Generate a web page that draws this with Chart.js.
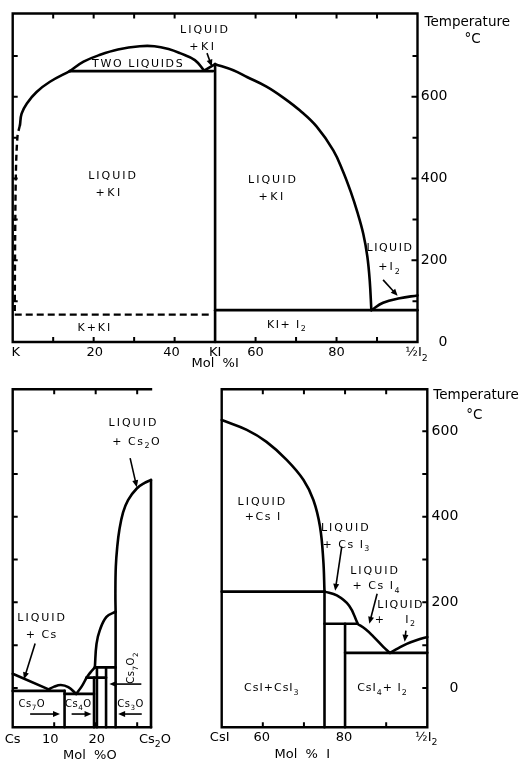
<!DOCTYPE html>
<html><head><meta charset="utf-8">
<script src="https://cdn.jsdelivr.net/npm/chart.js@4/dist/chart.umd.min.js"></script>
<style>
html,body{margin:0;padding:0;background:#fff;width:531px;height:762px;overflow:hidden}
canvas{position:absolute;left:0;top:0}
</style></head><body>
<canvas id="c1" width="531" height="762"></canvas>
<canvas id="c2" width="531" height="762"></canvas>
<canvas id="c3" width="531" height="762"></canvas>
<script>
// ===== K – I system (mol % I, temperature °C) =====
const kiLiquidusKSide = [[1.8,531],[2.2,559],[3.5,584],[5.9,612],[9.2,637],[14.1,663]];
const kiTwoLiquidDome = [[14.1,663],[17.5,686],[21.6,703],[26,716],[31.4,724],[35,724],[38.5,717],[41.3,707],[45,690],[47.3,664]];
const kiMonotectic = [[14.1,663],[49.5,663]];
const kiLiquidusNearKI = [[47.3,664],[50,680]];
const kiCompoundLine = [[50,0],[50,680]];
const kiLiquidusISide = [[50,680],[54.5,665],[58,648],[62.7,625],[67,597],[70.9,567],[75.1,527],[79.2,469],[81.5,420],[83.5,368],[85.2,316],[86.6,265],[87.6,210],[88.2,150],[88.6,78]];
const kiEutectic = [[50,78],[100,78]];
const kiIodineLiquidus = [[88.6,78],[91.5,96],[95.6,107],[100,114]];
const kiDashedLiquidus = [[1.8,531],[1.2,505],[0.8,420],[0.6,250],[0.5,67]];
const kiDashedSolidus = [[0.5,67],[49,67]];
const kiXTicks = [10,20,30,40,60,70,80,90];
const kiXLabels = [[0,'K'],[20,'20'],[40,'40'],[50,'KI'],[60,'60'],[80,'80'],[100,'½I_2']];
const kiTempLabels = [[0,'0'],[200,'200'],[400,'400'],[600,'600']];
const kiTempTicksMajor = [200,400,600];
const kiTempTicksMinor = [100,300,500,700];
const kiLeftTicks = [100,200,300,400,500,600,700];

// ===== Cs – O system (mol % O) =====
const csLiquidus = [[0,33],[8.8,-4]];
const cs7oDome = [[8.4,-5],[10,3],[11.6,7],[13.4,2],[15.3,-14]];
const cs7oSolidus = [[0,-7],[12.5,-7]];
const cs7oLine = [[12.5,-92],[12.5,-7]];
const cs4oTop = [[12.5,-14],[19.6,-14]];
const cs4oLiquidus = [[15.3,-14],[16.6,3],[17.8,24]];
const cs4oPeritectic = [[17.8,24],[22.5,24]];
const cs11o3Liquidus = [[17.8,24],[18.8,37],[19.8,48]];
const cs7o2Peritectic = [[19.8,48],[24.8,48]];
const cs3oLiquidus = [[19.8,48],[20.2,103],[21,135],[22.6,166],[24.8,178]];
const cs4oLine = [[19.6,-92],[19.6,24]];
const cs11o3Line = [[20.3,-92],[20.3,48]];
const cs7o2Line = [[22.5,-92],[22.5,48]];
const cs3oLine = [[24.8,-92],[24.8,178]];
const cs2oLiquidus = [[24.8,178],[24.75,220],[24.85,283],[25.2,330],[25.7,369],[26.6,410],[27.8,439],[29.9,466],[31.8,479],[33.33,486]];
const cs2oLine = [[33.33,-92],[33.33,486]];
const csoXTicks = [10,20,30];
const csoXLabels = [[0,'Cs'],[10,'10'],[20,'20'],[33.33,'Cs_2O']];
const csoLeftTicks = [0,100,200,300,400,500,600];

// ===== CsI – I system (mol % I) =====
const csiLiquidus = [[50,626],[56.1,603],[60.9,575],[65.8,533],[69.9,486],[72.3,439],[73.9,377],[74.7,299],[75,225]];
const csi3Peritectic = [[50,225],[75,225]];
const csi3Line = [[75,-92],[75,225]];
const csi3Liquidus = [[75,225],[78,216],[81,192],[83,152]];
const csi4Peritectic = [[75,150],[83,150]];
const csi4Line = [[80,-92],[80,150]];
const csi4Liquidus = [[83,150],[85,137],[86.9,120],[89.3,96],[90.9,82]];
const csiEutectic = [[80,82],[100,82]];
const csiIodineLiquidus = [[90.9,82],[93,93],[95,103],[97.5,112],[100,119]];
const csiXTicksTop = [60,70,80,90];
const csiXTicksBottom = [60,70,90];
const csiXLabels = [[50,'CsI'],[60,'60'],[80,'80'],[100,'½I_2']];
const csiTempLabels = [[0,'0'],[200,'200'],[400,'400'],[600,'600']];
const csiTempTicks = [0,100,200,300,400,500,600];

const FONT = "'DejaVu Sans', sans-serif";

function pts(a){ return a.map(p => ({x:p[0], y:p[1]})); }
function ln(a, opt){ return Object.assign({data:pts(a), showLine:true, pointRadius:0, borderColor:'#000', borderWidth:2.6, tension:0, fill:false, clip:false, borderCapStyle:'round', borderJoinStyle:'round'}, opt||{}); }
function crv(a){ return ln(a, {tension:0.4}); }

function drawRich(ctx, s, x, y, size, align, ls){
  const segs = [];
  for (let i=0;i<s.length;i++){
    if (s[i]==='_' && i+1<s.length){ segs.push({t:s[i+1], sub:true}); i++; }
    else if (segs.length && !segs[segs.length-1].sub) segs[segs.length-1].t += s[i];
    else segs.push({t:s[i], sub:false});
  }
  ctx.letterSpacing = (ls||0)+'px';
  let w = 0;
  for (const g of segs){ ctx.font = (g.sub? size*0.72 : size)+'px '+FONT; g.w = ctx.measureText(g.t).width; w += g.w; }
  let cx = align==='right' ? x-w : align==='left' ? x : x-w/2;
  ctx.textAlign='left'; ctx.textBaseline='middle';
  for (const g of segs){
    ctx.font = (g.sub? size*0.72 : size)+'px '+FONT;
    ctx.fillText(g.t, cx, g.sub ? y+size*0.4 : y);
    cx += g.w;
  }
  ctx.letterSpacing='0px';
}
function arrow(ctx,x1,y1,x2,y2){
  const a=Math.atan2(y2-y1,x2-x1), h=7, w=3;
  ctx.lineWidth=1.6;
  ctx.beginPath(); ctx.moveTo(x1,y1); ctx.lineTo(x2-h*0.7*Math.cos(a), y2-h*0.7*Math.sin(a)); ctx.stroke();
  ctx.beginPath(); ctx.moveTo(x2,y2);
  ctx.lineTo(x2-h*Math.cos(a)+w*Math.sin(a), y2-h*Math.sin(a)-w*Math.cos(a));
  ctx.lineTo(x2-h*Math.cos(a)-w*Math.sin(a), y2-h*Math.sin(a)+w*Math.cos(a));
  ctx.closePath(); ctx.fill();
}

const decor = {
  id:'decor',
  afterDatasetsDraw(chart, args, o){
    const ctx = chart.ctx, A = chart.chartArea, X = chart.scales.x, Y = chart.scales.y;
    ctx.save();
    ctx.strokeStyle='#000'; ctx.fillStyle='#000'; ctx.lineCap='square';
    ctx.lineWidth = 2.4;
    ctx.beginPath();
    for (const s of (o.frame||[])){
      if (s==='left'){ ctx.moveTo(A.left,A.top); ctx.lineTo(A.left,A.bottom); }
      if (s==='right'){ ctx.moveTo(A.right,A.top); ctx.lineTo(A.right,A.bottom); }
      if (s==='top'){ ctx.moveTo(A.left,A.top); ctx.lineTo(A.right,A.top); }
      if (s==='bottom'){ ctx.moveTo(A.left,A.bottom); ctx.lineTo(A.right,A.bottom); }
    }
    ctx.stroke();
    ctx.lineCap='butt';
    ctx.lineWidth = 2;
    for (const t of (o.ticks||[])){
      ctx.beginPath();
      for (const v of t.values){
        if (t.side==='bottom'){ const p=X.getPixelForValue(v); ctx.moveTo(p,A.bottom); ctx.lineTo(p,A.bottom-t.len); }
        if (t.side==='top'){ const p=X.getPixelForValue(v); ctx.moveTo(p,A.top); ctx.lineTo(p,A.top+t.len); }
        if (t.side==='left'){ const p=Y.getPixelForValue(v); ctx.moveTo(A.left,p); ctx.lineTo(A.left+t.len,p); }
        if (t.side==='right'){ const p=Y.getPixelForValue(v); ctx.moveTo(A.right,p); ctx.lineTo(A.right-t.len,p); }
      }
      ctx.stroke();
    }
    for (const t of (o.texts||[])){
      const px = X.getPixelForValue(t.x) + (t.dx||0);
      const py = Y.getPixelForValue(t.y) + (t.dy||0);
      if (t.rot){
        ctx.save(); ctx.translate(px,py); ctx.rotate(t.rot);
        drawRich(ctx, t.t, 0, 0, t.size||11, t.align||'center', t.ls||0);
        ctx.restore();
      } else drawRich(ctx, t.t, px, py, t.size||11, t.align||'center', t.ls||0);
    }
    for (const a of (o.arrows||[])){
      arrow(ctx, X.getPixelForValue(a[0]), Y.getPixelForValue(a[1]), X.getPixelForValue(a[2]), Y.getPixelForValue(a[3]));
    }
    ctx.restore();
  }
};

function makeChart(id, datasets, pad, xr, yr, deco, bg){
  const plugins = [decor];
  if (bg) plugins.push({id:'bg', beforeDraw(c){ const x=c.ctx; x.save(); x.fillStyle='#fff'; x.fillRect(0,0,c.width,c.height); x.restore(); }});
  return new Chart(document.getElementById(id), {
    type:'scatter',
    data:{datasets},
    options:{
      responsive:false, animation:false, devicePixelRatio:1,
      layout:{padding:pad},
      scales:{ x:{type:'linear', min:xr[0], max:xr[1], display:false}, y:{type:'linear', min:yr[0], max:yr[1], display:false} },
      plugins:{ legend:{display:false}, tooltip:{enabled:false}, decor:deco },
      events:[]
    },
    plugins
  });
}

function labelsBelow(list, ymin, dy, size, shifts){
  return list.map(([v,t],i) => ({t, x:v, y:ymin, dy, size, dx:(shifts&&shifts[i])||0}));
}
function labelsRight(list, xmax, dx, size){
  return list.map(([v,t]) => ({t, x:xmax, y:v, dx, size, align:'right'}));
}

// ---- Chart 1: K – I ----
makeChart('c1', [
  crv(kiLiquidusKSide), crv(kiTwoLiquidDome), ln(kiMonotectic), ln(kiLiquidusNearKI),
  ln(kiCompoundLine), crv(kiLiquidusISide), ln(kiEutectic), crv(kiIodineLiquidus),
  ln(kiDashedLiquidus, {borderDash:[6,4], borderCapStyle:'butt', borderWidth:2.4, tension:0.3}),
  ln(kiDashedSolidus, {borderDash:[7,4], borderCapStyle:'butt', borderWidth:2.4})
], {left:12.7, top:13.5, right:113.5, bottom:420}, [0,100], [0,804], {
  frame:['left','top','right','bottom'],
  ticks:[
    {side:'bottom', values:kiXTicks, len:5},
    {side:'top', values:kiXTicks, len:5},
    {side:'left', values:kiLeftTicks, len:5},
    {side:'right', values:kiTempTicksMajor, len:6},
    {side:'right', values:kiTempTicksMinor, len:5}
  ],
  texts:[
    ...labelsBelow(kiXLabels, 0, 11, 13, [3,1,-3,0,0,0,-1]),
    ...labelsRight(kiTempLabels, 100, 30, 14),
    {t:'Mol  %I', x:50, y:0, dy:22, size:13},
    {t:'Temperature', x:100, y:804, dx:7, dy:9, size:13.5, align:'left'},
    {t:'°C', x:100, y:804, dx:55, dy:26, size:13.5},
    {t:'LIQUID', x:47.5, y:763, ls:2},
    {t:'+KI', x:47, y:722, ls:2.5},
    {t:'TWO LIQUIDS', x:31, y:680, ls:1.6},
    {t:'LIQUID', x:24.8, y:406, ls:2},
    {t:'+KI', x:23.8, y:364, ls:2.5},
    {t:'LIQUID', x:64.3, y:396, ls:2},
    {t:'+KI', x:64.1, y:355, ls:2.5},
    {t:'LIQUID', x:93.2, y:230, ls:1.5},
    {t:'+I_2', x:93.2, y:183, ls:2},
    {t:'K+KI', x:20.3, y:34, ls:2},
    {t:'KI+ I_2', x:67.8, y:42, ls:1.5}
  ],
  arrows:[[48,707,49.2,674],[91.5,152,95.1,113]]
}, true);

// ---- Chart 2: Cs – O ----
makeChart('c2', [
  ln(csLiquidus), crv(cs7oDome), ln(cs7oSolidus), ln(cs7oLine), ln(cs4oTop),
  crv(cs4oLiquidus), ln(cs4oPeritectic), crv(cs11o3Liquidus), ln(cs7o2Peritectic),
  crv(cs3oLiquidus), ln(cs4oLine), ln(cs11o3Line), ln(cs7o2Line), ln(cs3oLine),
  crv(cs2oLiquidus), ln(cs2oLine)
], {left:12.7, top:389.2, right:380, bottom:34.7}, [0,33.33], [-92,698], {
  frame:['left','top','bottom'],
  ticks:[
    {side:'top', values:csoXTicks, len:5},
    {side:'bottom', values:csoXTicks, len:5},
    {side:'left', values:csoLeftTicks, len:5}
  ],
  texts:[
    ...labelsBelow(csoXLabels, -92, 12, 13, [0,-4,1,4]),
    {t:'Mol  %O', x:18.6, y:-92, dy:28, size:13},
    {t:'LIQUID', x:29.1, y:618, ls:2},
    {t:'+ Cs_2O', x:29.9, y:575, ls:1.5},
    {t:'LIQUID', x:7.1, y:163, ls:2},
    {t:'+ Cs', x:7, y:124, ls:1.5},
    {t:'Cs_7O', x:4.6, y:-38, size:10, ls:0.5},
    {t:'Cs_4O', x:15.8, y:-38, size:10, ls:0.5},
    {t:'Cs_3O', x:28.4, y:-38, size:10, ls:0.5},
    {t:'Cs_7O_2', x:28.7, y:47, size:10, ls:0.5, rot:-Math.PI/2}
  ],
  arrows:[[28.3,537,29.9,469],[5.4,104,2.7,20],[4.2,-61,11.4,-61],[14.2,-61,19.0,-61],[31.1,-61,25.4,-61],[31.0,9,23.3,9]]
}, false);

// ---- Chart 3: CsI – I ----
makeChart('c3', [
  crv(csiLiquidus), ln(csi3Peritectic), ln(csi3Line), crv(csi3Liquidus), ln(csi4Peritectic),
  ln(csi4Line), crv(csi4Liquidus), ln(csiEutectic), crv(csiIodineLiquidus)
], {left:221.7, top:389.2, right:103.7, bottom:34.7}, [50,100], [-92,698], {
  frame:['left','top','right','bottom'],
  ticks:[
    {side:'top', values:csiXTicksTop, len:5},
    {side:'bottom', values:csiXTicksBottom, len:5},
    {side:'right', values:csiTempTicks, len:5}
  ],
  texts:[
    ...labelsBelow(csiXLabels, -92, 10, 13, [-2,-1,-1,-1]),
    ...labelsRight(csiTempLabels, 100, 31, 14),
    {t:'Mol  %  I', x:69.6, y:-92, dy:27, size:13},
    {t:'Temperature', x:100, y:698, dx:6, dy:6, size:13.5, align:'left'},
    {t:'°C', x:100, y:698, dx:47, dy:26, size:13.5},
    {t:'LIQUID', x:59.9, y:435, ls:2},
    {t:'+Cs I', x:60.1, y:398, ls:1.5},
    {t:'LIQUID', x:80.2, y:374, ls:2},
    {t:'+ Cs I_3', x:80.4, y:334, ls:1.5},
    {t:'LIQUID', x:87.3, y:273, ls:2},
    {t:'+ Cs I_4', x:87.7, y:238, ls:1.5},
    {t:'LIQUID', x:93.5, y:194, ls:1.5},
    {t:'+    I_2', x:92.3, y:159, ls:1.5},
    {t:'CsI+CsI_3', x:62.2, y:-1, ls:1},
    {t:'CsI_4+ I_2', x:89.1, y:-1, ls:1}
  ],
  arrows:[[79.2,330,77.6,227],[87.8,220,85.9,150],[94.8,134,94.5,108]]
}, false);
</script>
</body></html>
